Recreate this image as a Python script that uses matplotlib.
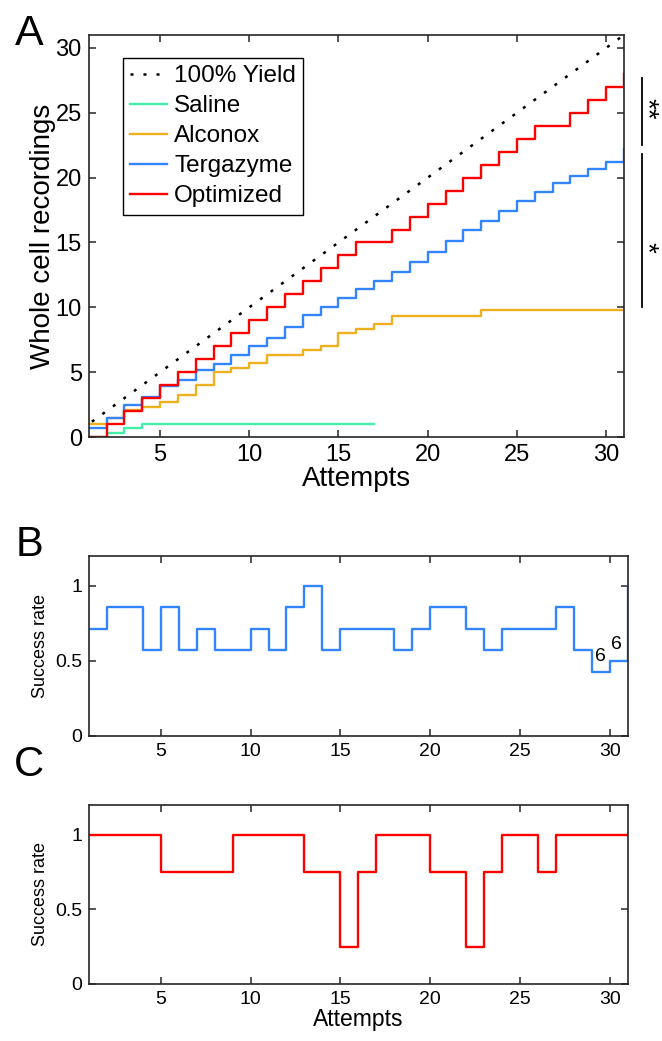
import numpy as np
import matplotlib
matplotlib.use('Agg')
import matplotlib.pyplot as plt

plt.rcParams['font.family'] = ['Liberation Sans', 'DejaVu Sans']

# panel A: cumulative whole cell recordings per attempt
attempts = np.arange(1, 32)
saline = [0, 0.33, 0.67] + [1.0] * 14
alconox = [1.0, 1.45, 2.08, 2.34, 2.72, 3.24, 4.0, 5.0, 5.3, 5.7, 6.3, 6.3, 6.7, 7.0,
           8.0, 8.35, 8.7, 9.3, 9.3, 9.3, 9.3, 9.3, 9.8, 9.8, 9.8, 9.8, 9.8, 9.8, 9.8, 9.8, 9.8]
tergazyme = [0.66, 1.5, 2.45, 3.1, 3.9, 4.43, 5.17, 5.65, 6.3, 7.0, 7.65, 8.45, 9.4, 10.0,
             10.7, 11.4, 12.05, 12.75, 13.5, 14.3, 15.15, 15.96, 16.65, 17.45, 18.2, 18.86,
             19.6, 20.1, 20.7, 21.2, 22.2]
optimized = [0, 1, 2, 3, 4, 5, 6, 7, 8, 9, 10, 11, 12, 13, 14, 15, 15, 16, 17, 18, 19, 20,
             21, 22, 23, 24, 24, 25, 26, 27, 28]

# panel B: Tergazyme success rate
terg_rate = [5/7, 6/7, 6/7, 4/7, 6/7, 4/7, 5/7, 4/7, 4/7, 5/7, 4/7, 6/7, 1, 4/7, 5/7, 5/7,
             5/7, 4/7, 5/7, 6/7, 6/7, 5/7, 4/7, 5/7, 5/7, 5/7, 6/7, 4/7, 3/7, 0.5, 1]
# panel C: Optimized success rate
opt_rate = [1, 1, 1, 1, 0.75, 0.75, 0.75, 0.75, 1, 1, 1, 1, 0.75, 0.75, 0.25, 0.75, 1, 1, 1,
            0.75, 0.75, 0.25, 0.75, 1, 1, 0.75, 1, 1, 1, 1, 1]

c_sal = '#40F0A8'
c_alc = '#EDB120'
c_ter = '#3385FF'
c_opt = '#FF0000'
axcol = '#262626'

fig = plt.figure(figsize=(6.62, 10.41), dpi=100)
axA = fig.add_axes([0.134, 0.5802, 0.8085, 0.3862])
axB = fig.add_axes([0.1344, 0.2933, 0.8137, 0.1726])
axC = fig.add_axes([0.1344, 0.0548, 0.8137, 0.172])


def style(ax, fs):
    for s in ax.spines.values():
        s.set_color(axcol)
        s.set_linewidth(1.2)
    ax.tick_params(direction='in', top=True, right=True, length=5, width=1.1,
                   color=axcol, labelsize=fs, pad=5)


# A
axA.plot([0, 32], [0, 32], color='k', lw=1.8, linestyle=(0, (1.2, 4.0)), label='100% Yield')
axA.step(attempts[:len(saline)], saline, where='post', color=c_sal, lw=1.7, label='Saline')
axA.step(attempts, alconox, where='post', color=c_alc, lw=1.7, label='Alconox')
axA.step(attempts, tergazyme, where='post', color=c_ter, lw=1.7, label='Tergazyme')
axA.step(attempts, optimized, where='post', color=c_opt, lw=1.7, label='Optimized')
axA.set_xlim(1, 31)
axA.set_ylim(0, 31)
axA.set_xticks([5, 10, 15, 20, 25, 30])
axA.set_yticks([0, 5, 10, 15, 20, 25, 30])
style(axA, 17)
axA.set_xlabel('Attempts', fontsize=20, labelpad=0)
axA.set_ylabel('Whole cell recordings', fontsize=20, labelpad=0)
leg = axA.legend(loc='upper left', bbox_to_anchor=(0.064, 0.943), borderaxespad=0,
                 fontsize=17.5, handlelength=1.5, handletextpad=0.3, labelspacing=0.33,
                 borderpad=0.3, fancybox=False, framealpha=1)
leg.get_frame().set_edgecolor('k')
leg.get_frame().set_linewidth(1.0)

# significance bars
axA.plot([32, 32], [22.5, 27.7], color='k', lw=1.3, clip_on=False)
axA.plot([32, 32], [10.0, 21.8], color='k', lw=1.3, clip_on=False)
axA.text(32.25, 25.3, '**', rotation=270, ha='center', va='center', fontsize=20)
axA.text(32.25, 14.6, '*', rotation=270, ha='center', va='center', fontsize=20)

# B
axB.step(attempts, terg_rate, where='post', color=c_ter, lw=1.7)
axB.set_xlim(1, 31)
axB.set_ylim(0, 1.2)
axB.set_xticks([5, 10, 15, 20, 25, 30])
axB.set_yticks([0, 0.5, 1])
axB.set_yticklabels(['0', '0.5', '1'])
style(axB, 14)
axB.set_ylabel('Success rate', fontsize=13)
axB.text(29.5, 0.53, '6', ha='center', va='center', fontsize=14)
axB.text(30.4, 0.61, '6', ha='center', va='center', fontsize=14)

# C
axC.step(attempts, opt_rate, where='post', color=c_opt, lw=1.7)
axC.set_xlim(1, 31)
axC.set_ylim(0, 1.2)
axC.set_xticks([5, 10, 15, 20, 25, 30])
axC.set_yticks([0, 0.5, 1])
axC.set_yticklabels(['0', '0.5', '1'])
style(axC, 14)
axC.set_ylabel('Success rate', fontsize=13)
axC.set_xlabel('Attempts', fontsize=16.5, labelpad=0)

fig.text(0.044, 0.967, 'A', fontsize=31, ha='center', va='center')
fig.text(0.044, 0.476, 'B', fontsize=30, ha='center', va='center')
fig.text(0.044, 0.265, 'C', fontsize=30, ha='center', va='center')

fig.savefig('out.png', dpi=100)
